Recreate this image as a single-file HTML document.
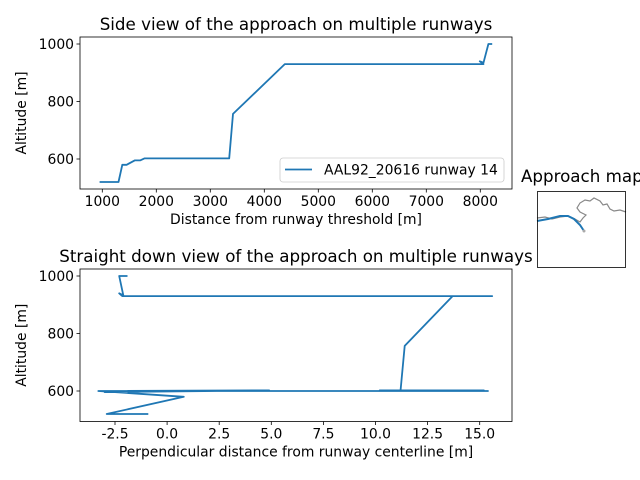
<!DOCTYPE html>
<html><head><meta charset="utf-8"><style>
body{margin:0;background:#fff;}
svg{display:block;font-family:"DejaVu Sans","Liberation Sans",sans-serif;}
</style></head><body>
<svg id="c" width="640" height="480" viewBox="0 0 640 480"></svg>
<script>
// Top chart data
const sideDist = [950,1300,1370,1450,1600,1700,1780,3350,3420,4380,8000,8060,7990,8060,8150,8220];
const sideAlt  = [520,520,580,580,595,595,602,602,757,930,930,930,940,935,1000,1000];
const sideXTicks = [1000,2000,3000,4000,5000,6000,7000,8000];
const sideYTicks = [600,800,1000];
// Bottom chart data
const perpDist = [-0.9,-2.9,0.8,-3.3,4.9,-3.0,0.8,-3.2,15.4,10.2,15.2,11.2,11.4,13.7,15.6,-2.15,-2.3,-2.1,-2.3,-1.9];
const perpAlt  = [520,520,580,600,602,596,600,600,600,602,602,600,757,930,930,930,940,933,1000,1000];
const perpXTicks = [-2.5,0.0,2.5,5.0,7.5,10.0,12.5,15.0];
const perpYTicks = [600,800,1000];

const NS="http://www.w3.org/2000/svg";
const svg=document.getElementById('c');
function mk(tag,attrs,parent){const e=document.createElementNS(NS,tag);for(const k in attrs)e.setAttribute(k,attrs[k]);(parent||svg).appendChild(e);return e;}
function lin(d0,d1,p0,p1){return v=>p0+(v-d0)*(p1-p0)/(d1-d0);}

function panel(o){
  const g=mk('g',{});
  
  
  const sx=lin(o.xd[0],o.xd[1],o.xp[0],o.xp[1]);
  const sy=lin(o.yd[0],o.yd[1],o.yp[0],o.yp[1]);
  const pts=o.xs.map((v,i)=>sx(v).toFixed(1)+','+sy(o.ys[i]).toFixed(1)).join(' ');
  const line=mk('polyline',{points:pts,fill:'none',stroke:'#1f77b4','stroke-width':1.8,'stroke-linejoin':'round'},g);
  
  
  const fr=mk('rect',{x:o.box[0],y:o.box[1],width:o.box[2]-o.box[0],height:o.box[3]-o.box[1],fill:'none',stroke:'#000','stroke-width':0.8},g);
  
  
  o.xt.forEach(t=>{const x=sx(t);
    mk('line',{x1:x,x2:x,y1:o.box[3],y2:o.box[3]+3.5,stroke:'#000','stroke-width':0.8},g);
    const tx=mk('text',{x:x,y:o.box[3]+17,'font-size':13.9,'text-anchor':'middle'},g);
    tx.textContent=o.xfmt(t);
    
    });
  o.yt.forEach(t=>{const y=sy(t);
    mk('line',{x1:o.box[0],x2:o.box[0]-3.5,y1:y,y2:y,stroke:'#000','stroke-width':0.8},g);
    const tx=mk('text',{x:o.box[0]-6,y:y+5,'font-size':13.9,'text-anchor':'end'},g);
    tx.textContent=t;
    
    });
  const ti=mk('text',{x:(o.box[0]+o.box[2])/2,y:o.box[1]-7,'font-size':16.7,'text-anchor':'middle'},g);
  ti.textContent=o.title;
  
  
  const xl=mk('text',{x:(o.box[0]+o.box[2])/2,y:o.box[3]+35,'font-size':13.9,'text-anchor':'middle'},g);
  xl.textContent=o.xlabel;
  
  
  const cy=(o.box[1]+o.box[3])/2;
  const yl=mk('text',{x:26,y:cy,'font-size':13.9,'text-anchor':'middle',transform:'rotate(-90 26 '+cy+')'},g);
  yl.textContent='Altitude [m]';
  
  
}

panel({name:'side-view-chart',xd:[1000,8000],xp:[102.3,480.3],yd:[600,1000],yp:[159,44],
  xs:sideDist,ys:sideAlt,xt:sideXTicks,yt:sideYTicks,box:[80,37,512,189],xfmt:t=>String(t),
  title:'Side view of the approach on multiple runways',xlabel:'Distance from runway threshold [m]'});
panel({name:'down-view-chart',xd:[-2.5,15],xp:[115,479.7],yd:[600,1000],yp:[391,276],
  xs:perpDist,ys:perpAlt,xt:perpXTicks,yt:perpYTicks,box:[80,269,512,421.5],xfmt:t=>t.toFixed(1),
  title:'Straight down view of the approach on multiple runways',xlabel:'Perpendicular distance from runway centerline [m]'});

// legend
const lg=mk('g',{});


mk('rect',{x:280,y:158,width:224,height:24,rx:3,fill:'#fff','fill-opacity':0.8,stroke:'#ccc','stroke-width':0.8},lg);
mk('line',{x1:285,x2:312,y1:169.5,y2:169.5,stroke:'#1f77b4','stroke-width':1.8},lg);
const lt=mk('text',{x:324,y:174.5,'font-size':13.9},lg);
lt.textContent='AAL92_20616 runway 14';



// map inset
const mg=mk('g',{});


const mt=mk('text',{x:521,y:182,'font-size':16.7},mg);
mt.textContent='Approach map';


mk('path',{d:'M537,218 L545,217 L552,219 L560,217 L568,216 L575,219 L580,222 L583,218 L586,215 L580,212 L577,208 L580,203 L585,200 L590,201 L594,198 L600,201 L603,205 L607,204 L610,209 L614,211 L620,210 L626,212',fill:'none',stroke:'#888','stroke-width':1.2},mg);
mk('path',{d:'M537,221 L548,219 L560,216 L568,216 L574,219 L580,225 L584,231',fill:'none',stroke:'#1f77b4','stroke-width':2},mg);
mk('circle',{cx:584,cy:231,r:1.5,fill:'#aaa'},mg);
mk('rect',{x:537.5,y:191.5,width:88,height:76,fill:'none',stroke:'#000','stroke-width':0.8},mg);
</script>
</body></html>
